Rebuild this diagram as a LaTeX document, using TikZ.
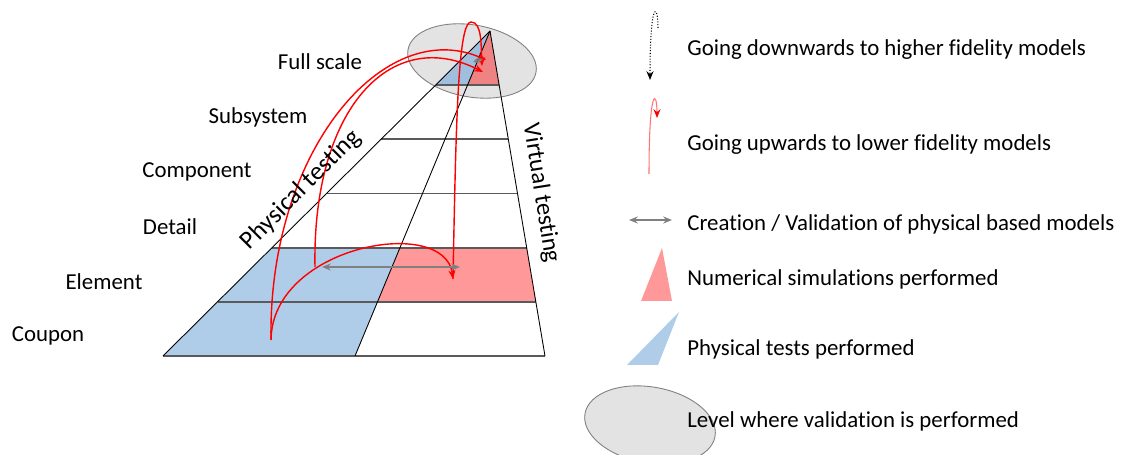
\documentclass[tikz,border=0pt]{standalone}
\usepackage{fontspec}
\setmainfont{Carlito}[Ligatures={NoCommon}]
\usetikzlibrary{calc,arrows.meta}
\definecolor{physfill}{RGB}{175,205,233}
\definecolor{virtfill}{RGB}{255,153,153}
\definecolor{physdark}{RGB}{160,191,222}
\definecolor{virtdark}{RGB}{239,130,130}
\definecolor{valgray}{RGB}{227,227,227}
\definecolor{rowgray}{RGB}{90,90,90}
\begin{document}
\begin{tikzpicture}[x=0.02cm, y=-0.02cm, >={Stealth[length=5pt,width=4pt]},
	font=\fontsize{13}{15}\selectfont,
	rowline/.style={draw=rowgray, line width=1.1pt},
	edgeline/.style={draw=black, line width=0.5pt},
	redarc/.style={draw=red, line width=0.8pt, ->},
	valarrow/.style={draw=gray, line width=1.2pt, <->},
	valzone/.style={fill=valgray, draw=gray, line width=0.5pt},
	legtext/.style={anchor=west, inner sep=0pt}]
	\useasboundingbox (0,0) rectangle (1125,455);
	\coordinate (apex) at (490,31);
	\coordinate (bl) at (163,356);
	\coordinate (bm) at (355,356);
	\coordinate (br) at (545,356);
	\draw[valzone, rotate around={-10:(472,61)}] (472,61) ellipse [x radius=65, y radius=36];
	\fill[physdark] (apex) -- ($(apex)!1/6!(bl)$) -- ($(apex)!1/6!(bm)$) -- cycle;
	\fill[virtdark] (apex) -- ($(apex)!1/6!(bm)$) -- ($(apex)!1/6!(br)$) -- cycle;
	\fill[physfill] ($(apex)!4/6!(bl)$) -- ($(apex)!4/6!(bm)$) -- (bm) -- (bl) -- cycle;
	\fill[virtfill] ($(apex)!4/6!(bm)$) -- ($(apex)!4/6!(br)$) -- ($(apex)!5/6!(br)$) -- ($(apex)!5/6!(bm)$) -- cycle;
	\foreach \k in {1,...,6}{
		\draw[rowline] ($(apex)!\k/6!(bl)$) -- ($(apex)!\k/6!(br)$);
	}
	\foreach \e in {bl,bm,br}{
		\draw[edgeline] (apex) -- (\e);
	}
	\coordinate (cpn) at (271,340);
	\coordinate (elm) at (315,267);
	\coordinate (elmv) at (453,279);
	\coordinate (topa) at (486,60);
	\coordinate (topb) at (483,72);
	\coordinate (topc) at (482,66);
	\draw[redarc] (cpn) .. controls (268,150) and (385,15) .. (topa);
	\draw[redarc] (elm) .. controls (312,110) and (390,25) .. (topb);
	\draw[redarc] (cpn) .. controls (272,245) and (445,215) .. (elmv);
	\draw[redarc] (elmv) .. controls (456,120) and (458,22) .. (471,22) .. controls (482,22) and (481,45) .. (topc);
	\coordinate (gl) at (322,267);
	\coordinate (gr) at (460,267);
	\draw[valarrow] (gl) -- (gr);
	\coordinate (tl) at (473,62);
	\coordinate (tr) at (483,59);
	\draw[draw=gray, line width=1pt, {Stealth[length=3pt,width=3pt]}-{Stealth[length=3pt,width=3pt]}] (tl) -- (tr);
	\node (full) at (320,62) {Full scale};
	\node (subsys) at (258,117) {Subsystem};
	\node (comp) at (197,172) {Component};
	\node (detail) at (170,227) {Detail};
	\node (element) at (104,282) {Element};
	\node (coupon) at (48,336) {Coupon};
	\node[rotate=45, font=\fontsize{14.5}{17}\selectfont] (phys) at (301,190) {Physical testing};
	\node[rotate=-81, font=\fontsize{14}{17}\selectfont] (virt) at (541,193) {Virtual testing};
	\coordinate (da) at (658,28);
	\coordinate (db) at (650,80);
	\draw[densely dotted, line width=0.6pt, ->] (da) .. controls (658,2) and (650,0) .. (db);
	\coordinate (ua) at (649,174);
	\coordinate (ub) at (657,118);
	\draw[draw=red!55, line width=0.6pt, -{Stealth[length=5pt,width=4pt,red]}] (ua) .. controls (649,85) and (657,90) .. (ub);
	\coordinate (la) at (629,220);
	\coordinate (lb) at (672,220);
	\draw[valarrow] (la) -- (lb);
	\fill[virtfill] (662,248) -- (641,301) -- (672,301) -- cycle;
	\fill[physfill] (679,312) -- (627,365) -- (658,365) -- cycle;
	\draw[valzone, rotate around={-10:(650,425)}] (650,425) ellipse [x radius=66, y radius=38];
	\node[legtext] (tdown) at (687,50) {Going downwards to higher fidelity models};
	\node[legtext] (tup) at (687,145) {Going upwards to lower fidelity models};
	\node[legtext] (tval) at (687,224) {Creation / Validation of physical based models};
	\node[legtext] (tnum) at (687,279) {Numerical simulations performed};
	\node[legtext] (tphys) at (687,349) {Physical tests performed};
	\node[legtext] (tlev) at (687,421) {Level where validation is performed};
\end{tikzpicture}
\end{document}
